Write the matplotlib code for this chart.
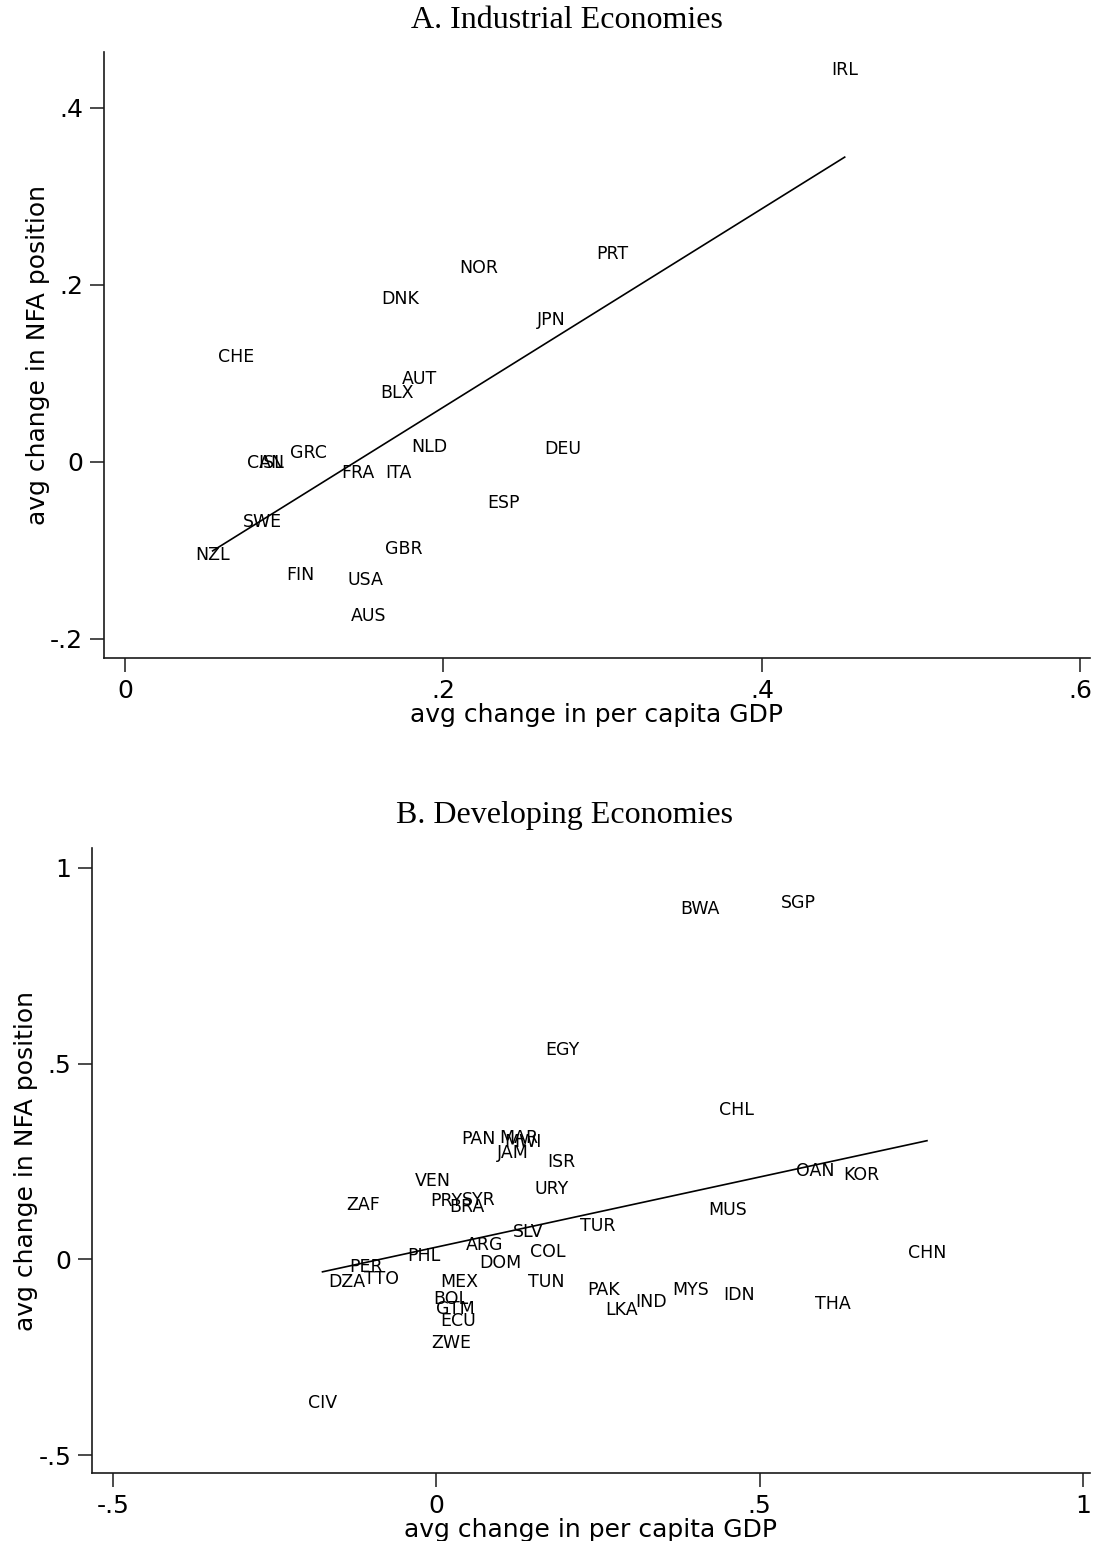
import numpy as np
import matplotlib
matplotlib.use("Agg")
import matplotlib.pyplot as plt

# industrial economies: avg change in per capita GDP vs avg change in NFA position
ind_codes = ["IRL", "PRT", "NOR", "DNK", "JPN", "CHE", "AUT", "BLX", "NLD", "DEU", "GRC",
             "CAN", "ISL", "FRA", "ITA", "ESP", "SWE", "NZL", "GBR", "FIN", "USA", "AUS"]
ind_gdp = [0.452, 0.306, 0.222, 0.173, 0.268, 0.070, 0.185, 0.171, 0.191, 0.275, 0.115,
           0.088, 0.092, 0.146, 0.172, 0.238, 0.086, 0.055, 0.175, 0.110, 0.151, 0.153]
ind_nfa = [0.443, 0.235, 0.219, 0.184, 0.160, 0.118, 0.094, 0.078, 0.017, 0.015, 0.010,
           -0.001, -0.001, -0.012, -0.012, -0.046, -0.068, -0.105, -0.098, -0.128, -0.133, -0.174]

# developing economies
dev_codes = ["BWA", "SGP", "EGY", "CHL", "PAN", "MAR", "MWI", "JAM", "ISR", "OAN", "KOR",
             "VEN", "URY", "ZAF", "PRY", "SYR", "BRA", "MUS", "TUR", "SLV", "CHN", "ARG",
             "COL", "PHL", "DOM", "PER", "DZA", "TTO", "MEX", "TUN", "PAK", "MYS", "IDN",
             "LKA", "IND", "THA", "BOL", "GTM", "ECU", "ZWE", "CIV"]
dev_gdp = [0.408, 0.560, 0.195, 0.465, 0.065, 0.127, 0.134, 0.118, 0.193, 0.586, 0.658,
           -0.005, 0.178, -0.113, 0.016, 0.065, 0.048, 0.451, 0.249, 0.142, 0.759, 0.074,
           0.173, -0.019, 0.099, -0.108, -0.138, -0.085, 0.036, 0.170, 0.258, 0.393, 0.468,
           0.286, 0.332, 0.614, 0.023, 0.029, 0.034, 0.023, -0.176]
dev_nfa = [0.894, 0.910, 0.534, 0.381, 0.307, 0.309, 0.299, 0.273, 0.250, 0.225, 0.215,
           0.199, 0.179, 0.138, 0.148, 0.151, 0.135, 0.125, 0.084, 0.069, 0.015, 0.036,
           0.018, 0.008, -0.010, -0.020, -0.059, -0.051, -0.059, -0.059, -0.079, -0.079, -0.092,
           -0.130, -0.110, -0.115, -0.102, -0.128, -0.158, -0.215, -0.368]

panels = [
    ("A. Industrial Economies", ind_codes, ind_gdp, ind_nfa,
     [0, 0.2, 0.4, 0.6], ["0", ".2", ".4", ".6"], (-0.0132, 0.606),
     [-0.2, 0, 0.2, 0.4], ["-.2", "0", ".2", ".4"], (-0.2215, 0.463),
     [0.0944, 0.573, 0.8946, 0.3933], (567, 20)),
    ("B. Developing Economies", dev_codes, dev_gdp, dev_nfa,
     [-0.5, 0, 0.5, 1], ["-.5", "0", ".5", "1"], (-0.5325, 1.011),
     [-0.5, 0, 0.5, 1], ["-.5", "0", ".5", "1"], (-0.546, 1.051),
     [0.0835, 0.0441, 0.9055, 0.4056], (565, 815)),
]

W, H = 1102, 1541
fig = plt.figure(figsize=(W / 100, H / 100), dpi=100)
sans = ["DejaVu Sans"]
ink = "#1a1a1a"

for title, codes, gdp, nfa, xt, xtl, xlim, yt, ytl, ylim, rect, tpos in panels:
    ax = fig.add_axes(rect)
    gdp = np.array(gdp)
    nfa = np.array(nfa)
    for c, x, y in zip(codes, gdp, nfa):
        ax.text(x, y, c, ha="center", va="center", fontsize=12.5, family=sans)
    # OLS fitted line over the range of the data
    b, a = np.polyfit(gdp, nfa, 1)
    xs = np.array([gdp.min(), gdp.max()])
    ax.plot(xs, a + b * xs, color="black", lw=1.2)

    ax.set_xlim(*xlim)
    ax.set_ylim(*ylim)
    ax.set_xticks(xt)
    ax.set_xticklabels(xtl, family=sans, fontsize=18)
    ax.set_yticks(yt)
    ax.set_yticklabels(ytl, family=sans, fontsize=18)
    ax.tick_params(direction="out", length=10, width=1.1, pad=5, color=ink)
    for s in ["top", "right"]:
        ax.spines[s].set_visible(False)
    for s in ["left", "bottom"]:
        ax.spines[s].set_linewidth(1.2)
        ax.spines[s].set_color(ink)
    ax.set_xlabel("avg change in per capita GDP", family=sans, fontsize=18, labelpad=0)
    ax.set_ylabel("avg change in NFA position", family=sans, fontsize=18, labelpad=0)
    fig.text(tpos[0] / W, 1 - tpos[1] / H, title, ha="center", va="center",
             family=["Liberation Serif", "DejaVu Serif"], fontsize=23)

fig.savefig("out.png", dpi=100)
